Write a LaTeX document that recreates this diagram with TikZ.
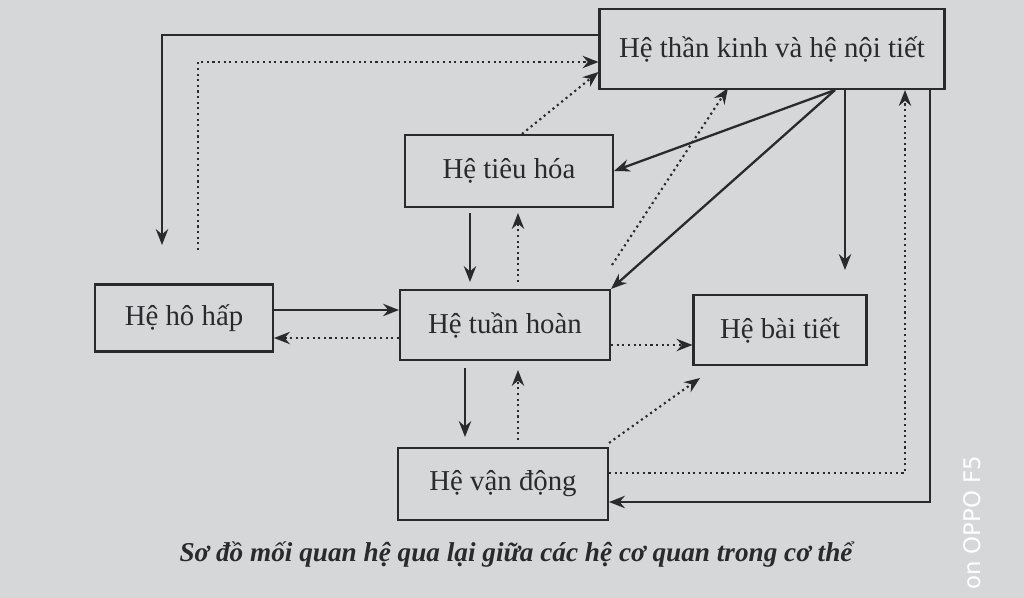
\documentclass[tikz,border=0pt]{standalone}
\usepackage{fontspec}
\setmainfont{Liberation Serif}
\setsansfont{DejaVu Sans}
\usetikzlibrary{arrows.meta, positioning}
\definecolor{paper}{HTML}{D6D7D9}
\definecolor{ink}{HTML}{2A2A2E}
\tikzset{
  organ/.style = {draw=ink, line width=1.2pt, fill=paper, text=ink, font=\fontsize{16.4}{19}\selectfont, inner sep=0pt},
  solidarr/.style = {draw=ink, line width=1.3pt, -{Stealth[length=9pt,width=7pt]}},
  dotarr/.style = {draw=ink, line width=1.2pt, dotted, -{Stealth[length=9pt,width=7pt]}},
}
\begin{document}
\begin{tikzpicture}[x=0.02cm, y=-0.02cm]
  \fill[paper] (0,0) rectangle (1024,598);
  \useasboundingbox (0,0) rectangle (1024,598);
  % organ boxes
  \node (tk) [organ, minimum width=6.9cm, minimum height=1.6cm] at (772,49) {Hệ thần kinh và hệ nội tiết};
  \node (th) [organ, minimum width=4.16cm, minimum height=1.44cm] at (509,171) {Hệ tiêu hóa};
  \node (hh) [organ, minimum width=3.56cm, minimum height=1.34cm] at (184,318) {Hệ hô hấp};
  \node (tu) [organ, minimum width=4.2cm, minimum height=1.4cm] at (505,325) {Hệ tuần hoàn};
  \node (bt) [organ, minimum width=3.46cm, minimum height=1.4cm] at (780,330) {Hệ bài tiết};
  \node (vd) [organ, minimum width=4.2cm, minimum height=1.44cm] at (503,484) {Hệ vận động};
  \node (cap) [text=ink, font=\fontsize{15.5}{18}\selectfont\bfseries\itshape] at (516,555) {Sơ đồ mối quan hệ qua lại giữa các hệ cơ quan trong cơ thể};
  \node (wm) [rotate=90, text=white, font=\sffamily\fontsize{13}{15}\selectfont, anchor=west, inner sep=1pt] at (972,592) {on OPPO F5};
  % free ends
  \coordinate (hhup) at (162,245);
  \coordinate (hhdn) at (198,250);
  \coordinate (btup) at (845,270);
  % connectors
  \draw [solidarr] (tk.west |- 0,35) -| (hhup);
  \draw [dotarr] (hhdn) |- (tk.west |- 0,62);
  \draw [dotarr] (th.north -| 522,0) -- (tk.west |- 0,72);
  \draw [solidarr] (tk.south -| 835,0) -- (th.east);
  \draw [solidarr] (tk.south -| 835,0) -- (tu.north east);
  \draw [dotarr] (612,265) -- (728,88);
  \draw [solidarr] (tk.south -| 845,0) -- (btup);
  \draw [dotarr] (vd.east |- 0,473) -| (tk.south -| 905,0);
  \draw [solidarr] (tk.south -| 930,0) |- (vd.east |- 0,502);
  \draw [solidarr] (470,213) -- (470,282);
  \draw [dotarr] (518,282) -- (518,213);
  \draw [solidarr] (hh.east |- 0,310) -- (tu.west |- 0,310);
  \draw [dotarr] (tu.west |- 0,338) -- (hh.east |- 0,338);
  \draw [dotarr] (tu.east |- 0,345) -- (bt.west |- 0,345);
  \draw [solidarr] (465,368) -- (465,437);
  \draw [dotarr] (518,440) -- (518,370);
  \draw [dotarr] (vd.north east) ++(0,-4) -- (700,378);
\end{tikzpicture}
\end{document}
